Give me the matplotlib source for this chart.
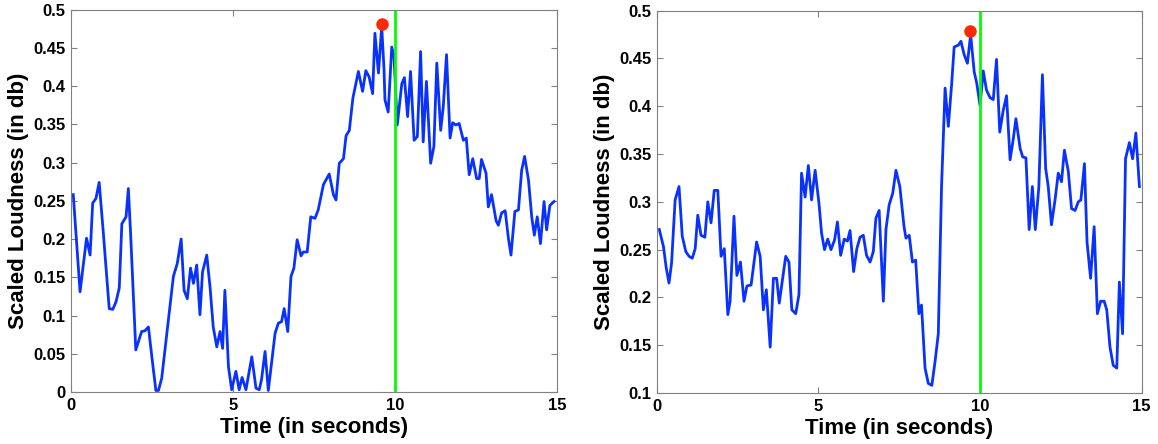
import numpy as np
import matplotlib
matplotlib.use("Agg")
import matplotlib.pyplot as plt
from matplotlib.ticker import FuncFormatter

plt.rcParams['font.family'] = ['Liberation Sans', 'DejaVu Sans']
plt.rcParams['font.weight'] = 'bold'

# left clip: time (s) and scaled loudness
t1 = [0.07, 0.28, 0.48, 0.59, 0.67, 0.77, 0.87, 1.0, 1.18, 1.29, 1.39, 1.49, 1.57, 1.70, 1.77, 1.84,
      2.0, 2.18, 2.28, 2.39, 2.49, 2.62, 2.70, 2.80, 3.16, 3.28, 3.40, 3.49, 3.59, 3.69, 3.78, 3.88,
      3.98, 4.06, 4.19, 4.29, 4.39, 4.50, 4.60, 4.68, 4.75, 4.86, 4.96, 5.09, 5.19, 5.28, 5.40, 5.58,
      5.71, 5.81, 5.88, 5.99, 6.09, 6.30, 6.40, 6.50, 6.58, 6.69, 6.79, 6.88, 6.98, 7.10, 7.17, 7.29,
      7.40, 7.53, 7.63, 7.79, 7.97, 8.10, 8.18, 8.28, 8.41, 8.49, 8.59, 8.70, 8.87, 9.00, 9.10, 9.20,
      9.31, 9.38, 9.49, 9.59, 9.66, 9.69, 9.79, 9.90, 9.97, 10.07, 10.21, 10.29, 10.39, 10.48, 10.59,
      10.69, 10.79, 10.87, 10.97, 11.10, 11.20, 11.29, 11.41, 11.49, 11.59, 11.70, 11.78, 11.88, 11.98,
      12.11, 12.20, 12.29, 12.40, 12.52, 12.60, 12.67, 12.81, 12.88, 12.98, 13.12, 13.19, 13.29, 13.40,
      13.50, 13.58, 13.70, 13.81, 13.91, 14.00, 14.12, 14.22, 14.30, 14.39, 14.49, 14.60, 14.68, 14.78,
      14.91]
v1 = [0.258, 0.131, 0.201, 0.179, 0.247, 0.253, 0.274, 0.207, 0.109, 0.108, 0.118, 0.136, 0.220, 0.229,
      0.266, 0.207, 0.055, 0.079, 0.080, 0.085, 0.048, 0.002, 0.002, 0.018, 0.151, 0.168, 0.200, 0.133,
      0.122, 0.162, 0.142, 0.166, 0.101, 0.157, 0.179, 0.138, 0.085, 0.059, 0.079, 0.057, 0.133, 0.033,
      0.003, 0.027, 0.003, 0.019, 0.003, 0.046, 0.005, 0.003, 0.016, 0.053, 0.002, 0.077, 0.090, 0.092,
      0.109, 0.079, 0.151, 0.162, 0.199, 0.178, 0.183, 0.183, 0.229, 0.227, 0.238, 0.271, 0.285, 0.258,
      0.251, 0.299, 0.305, 0.335, 0.342, 0.384, 0.419, 0.393, 0.420, 0.412, 0.390, 0.469, 0.417, 0.478,
      0.423, 0.382, 0.366, 0.451, 0.438, 0.349, 0.403, 0.411, 0.360, 0.419, 0.329, 0.334, 0.445, 0.327,
      0.406, 0.299, 0.321, 0.430, 0.342, 0.373, 0.441, 0.332, 0.352, 0.349, 0.351, 0.329, 0.332, 0.284,
      0.305, 0.279, 0.279, 0.304, 0.286, 0.242, 0.258, 0.224, 0.218, 0.234, 0.237, 0.201, 0.179, 0.236,
      0.238, 0.290, 0.308, 0.277, 0.229, 0.205, 0.229, 0.194, 0.249, 0.212, 0.244, 0.249]
peak1 = (9.59, 0.481)

# right clip
t2 = [0.08, 0.21, 0.29, 0.38, 0.46, 0.57, 0.69, 0.79, 0.90, 1.0, 1.10, 1.19, 1.27, 1.37, 1.49, 1.58,
      1.68, 1.78, 1.89, 1.99, 2.09, 2.20, 2.27, 2.39, 2.48, 2.59, 2.70, 2.79, 2.92, 3.09, 3.20, 3.30,
      3.39, 3.51, 3.61, 3.71, 3.79, 3.99, 4.09, 4.18, 4.30, 4.40, 4.48, 4.59, 4.69, 4.79, 4.90, 5.02,
      5.10, 5.19, 5.29, 5.39, 5.50, 5.59, 5.69, 5.80, 5.90, 5.98, 6.09, 6.19, 6.29, 6.39, 6.49, 6.60,
      6.70, 6.78, 6.88, 7.01, 7.09, 7.19, 7.30, 7.40, 7.52, 7.65, 7.71, 7.81, 7.91, 8.01, 8.11, 8.19,
      8.30, 8.40, 8.51, 8.61, 8.71, 8.81, 8.92, 9.02, 9.12, 9.20, 9.33, 9.41, 9.51, 9.61, 9.71, 9.82,
      9.90, 10.00, 10.10, 10.20, 10.31, 10.41, 10.51, 10.61, 10.72, 10.82, 10.93, 11.03, 11.11, 11.24,
      11.32, 11.42, 11.52, 11.62, 11.71, 11.82, 11.93, 12.03, 12.11, 12.21, 12.32, 12.42, 12.52, 12.61,
      12.73, 12.83, 12.94, 13.04, 13.12, 13.23, 13.31, 13.42, 13.53, 13.63, 13.73, 13.84, 13.92, 14.02,
      14.12, 14.23, 14.31, 14.41, 14.50, 14.62, 14.72, 14.82, 14.93]
v2 = [0.271, 0.253, 0.232, 0.215, 0.236, 0.302, 0.316, 0.264, 0.248, 0.243, 0.241, 0.251, 0.286, 0.265,
      0.263, 0.300, 0.278, 0.312, 0.312, 0.243, 0.251, 0.182, 0.196, 0.285, 0.223, 0.237, 0.196, 0.212,
      0.213, 0.258, 0.243, 0.187, 0.208, 0.148, 0.220, 0.220, 0.194, 0.243, 0.237, 0.187, 0.183, 0.203,
      0.330, 0.305, 0.338, 0.302, 0.333, 0.298, 0.267, 0.250, 0.261, 0.250, 0.260, 0.279, 0.244, 0.261,
      0.259, 0.270, 0.227, 0.251, 0.263, 0.265, 0.244, 0.237, 0.248, 0.283, 0.291, 0.196, 0.271, 0.297,
      0.309, 0.333, 0.316, 0.274, 0.262, 0.265, 0.237, 0.239, 0.183, 0.192, 0.126, 0.110, 0.108, 0.133,
      0.162, 0.316, 0.419, 0.379, 0.422, 0.462, 0.464, 0.468, 0.454, 0.445, 0.475, 0.436, 0.424, 0.401,
      0.437, 0.417, 0.409, 0.407, 0.449, 0.373, 0.396, 0.411, 0.344, 0.366, 0.387, 0.356, 0.347, 0.346,
      0.271, 0.316, 0.271, 0.316, 0.433, 0.335, 0.316, 0.276, 0.302, 0.330, 0.321, 0.354, 0.332, 0.293,
      0.291, 0.300, 0.302, 0.340, 0.258, 0.220, 0.274, 0.183, 0.196, 0.196, 0.187, 0.148, 0.129, 0.126,
      0.216, 0.162, 0.345, 0.362, 0.345, 0.372, 0.316]
peak2 = (9.70, 0.479)

marker_time = 10
xticks = [0, 5, 10, 15]

fig = plt.figure(figsize=(11.58, 4.44), dpi=100)
ax1 = fig.add_axes([0.0613, 0.1171, 0.4197, 0.8615])
ax2 = fig.add_axes([0.5671, 0.1149, 0.4188, 0.861])

fmt = FuncFormatter(lambda v, p: f"{v:g}")

for ax, t, v, peak, ylim in [(ax1, t1, v1, peak1, (0, 0.5)), (ax2, t2, v2, peak2, (0.1, 0.5))]:
    ax.plot(t, v, color='#0a32ff', lw=2)
    ax.axvline(marker_time, color='#00ff00', lw=2)
    ax.plot(peak[0], peak[1], 'o', color='#ff2a00', ms=8, zorder=5)
    ax.set_xlim(0, 15)
    ax.set_ylim(*ylim)
    ax.set_xticks(xticks)
    ax.set_yticks(np.arange(ylim[0], 0.5001, 0.05))
    ax.yaxis.set_major_formatter(fmt)
    ax.tick_params(direction='in', top=True, right=True, labelsize=12, length=4,
                   color='#808080', pad=4)
    for s in ax.spines.values():
        s.set_color('#808080')
    ax.set_xlabel('Time (in seconds)', fontsize=16, fontweight='bold', labelpad=3)
    ax.set_ylabel('Scaled Loudness (in db)', fontsize=16, fontweight='bold', labelpad=3)

fig.savefig('out.png', dpi=100)
